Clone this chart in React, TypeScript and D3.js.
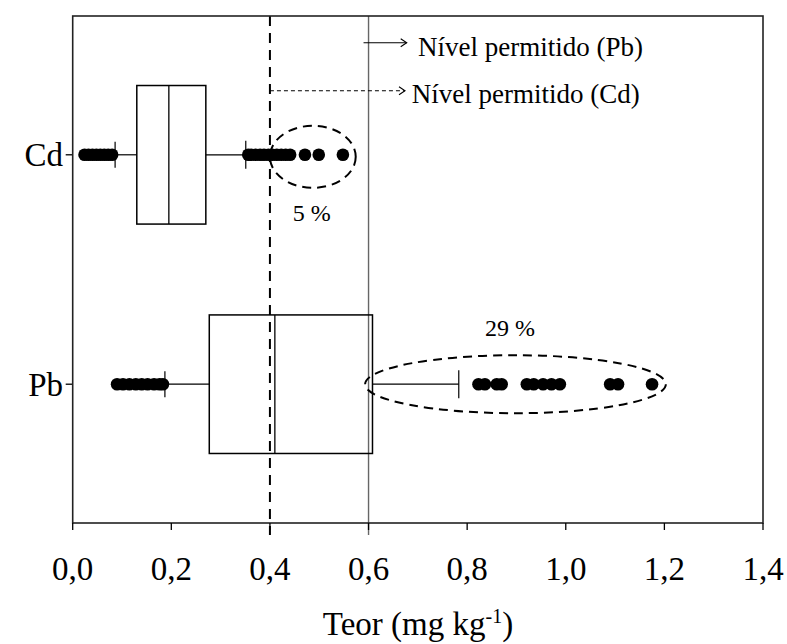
import React from "react";
import * as d3 from "d3";

const categories = ["Cd", "Pb"];
const q1 = [0.13, 0.277];
const medians = [0.195, 0.41];
const q3 = [0.27, 0.608];
const whiskerLow = [0.086, 0.187];
const whiskerHigh = [0.351, 0.783];
const outliersCd = [0.024, 0.032, 0.04, 0.048, 0.056, 0.064, 0.072, 0.08, 0.356, 0.362, 0.371, 0.38, 0.388, 0.397, 0.405, 0.414, 0.423, 0.432, 0.441, 0.471, 0.499, 0.548];
const outliersPb = [0.09, 0.102, 0.115, 0.128, 0.14, 0.152, 0.165, 0.176, 0.183, 0.823, 0.836, 0.86, 0.87, 0.921, 0.935, 0.954, 0.971, 0.988, 1.09, 1.106, 1.175];
const outliers = [outliersCd, outliersPb];
const ellipseCenter = [0.487, 0.898];
const ellipseRadius = [0.087, 0.305];
const ellipseRy = [31, 29];
const percentLabels = ["5 %", "29 %"];
const percentX = [0.485, 0.887];
const xTicks = [0, 0.2, 0.4, 0.6, 0.8, 1.0, 1.2, 1.4];
const cdLimit = 0.4;
const pbLimit = 0.6;
const legendPb = "Nível permitido (Pb)";
const legendCd = "Nível permitido (Cd)";

const FONT = "'Liberation Serif', 'Times New Roman', serif";

export default function App() {
  const left = 72.7, right = 763, top = 16, bottom = 523;
  const x = d3.scaleLinear().domain([0, 1.4]).range([left, right]);
  const y = d3.scalePoint<string>().domain(categories).range([top, bottom]).padding(0.605);
  const step = y.step();
  const boxH = step * 0.604;
  const fmt = d3.formatLocale({ decimal: ",", thousands: ".", grouping: [3], currency: ["", ""] }).format(".1f");

  const chevron = (tx: number, ty: number) => `M${tx - 6},${ty - 4}L${tx},${ty}L${tx - 6},${ty + 4}`;

  return (
    <svg width={787} height={644} style={{ position: "absolute", left: 0, top: 0, background: "#fff" }} fontFamily={FONT}>
      {/* limit lines */}
      <line x1={x(pbLimit)} x2={x(pbLimit)} y1={top} y2={bottom + 12} stroke="#666" strokeWidth={1.4} />
      <line x1={x(cdLimit)} x2={x(cdLimit)} y1={top} y2={bottom + 12} stroke="#000" strokeWidth={2} strokeDasharray="10,7" />

      {categories.map((c, i) => {
        const cy = y(c)!;
        return (
          <g key={c}>
            {/* whiskers */}
            <line x1={x(whiskerLow[i])} x2={x(q1[i])} y1={cy} y2={cy} stroke="#000" strokeWidth={1.2} />
            <line x1={x(q3[i])} x2={x(whiskerHigh[i])} y1={cy} y2={cy} stroke="#000" strokeWidth={1.2} />
            <line x1={x(whiskerLow[i])} x2={x(whiskerLow[i])} y1={cy - 13} y2={cy + 13} stroke="#000" strokeWidth={1.2} />
            <line x1={x(whiskerHigh[i])} x2={x(whiskerHigh[i])} y1={cy - 14} y2={cy + 14} stroke="#000" strokeWidth={1.2} />
            {/* box */}
            <rect x={x(q1[i])} y={cy - boxH / 2} width={x(q3[i]) - x(q1[i])} height={boxH} fill="none" stroke="#000" strokeWidth={1.5} />
            <line x1={x(medians[i])} x2={x(medians[i])} y1={cy - boxH / 2} y2={cy + boxH / 2} stroke="#000" strokeWidth={1.3} />
            {/* outliers */}
            {outliers[i].map((v, j) => (
              <circle key={j} cx={x(v)} cy={cy} r={6.3} fill="#000" />
            ))}
            {/* ellipse */}
            <ellipse cx={x(ellipseCenter[i])} cy={cy + (i === 0 ? 2 : 0)} rx={x(ellipseRadius[i]) - x(0)} ry={ellipseRy[i]} fill="none" stroke="#000" strokeWidth={2} strokeDasharray="9,6" />
            <text x={x(percentX[i])} y={i === 0 ? cy + 66.7 : cy - 48.5} textAnchor="middle" fontSize={24}>{percentLabels[i]}</text>
            {/* y tick + label */}
            <line x1={left - 7} x2={left} y1={cy} y2={cy} stroke="#000" strokeWidth={1.3} />
            <text x={63} y={cy} dy="0.35em" textAnchor="end" fontSize={33}>{c}</text>
          </g>
        );
      })}

      {/* frame */}
      <rect x={left} y={top} width={right - left} height={bottom - top} fill="none" stroke="#222" strokeWidth={1.6} />

      {/* x axis ticks */}
      {xTicks.map((t) => (
        <g key={t}>
          <line x1={x(t)} x2={x(t)} y1={bottom} y2={bottom + 7} stroke="#000" strokeWidth={1.3} />
          <text x={x(t)} y={580} textAnchor="middle" fontSize={33}>{fmt(t)}</text>
        </g>
      ))}
      <text x={418} y={635} textAnchor="middle" fontSize={33}>
        Teor (mg kg<tspan dy={-12} fontSize={20}>-1</tspan><tspan dy={12}>)</tspan>
      </text>

      {/* legend */}
      <line x1={x(pbLimit) - 5} x2={406.7} y1={42.7} y2={42.7} stroke="#000" strokeWidth={1.1} />
      <path d={chevron(406.7, 42.7)} fill="none" stroke="#000" strokeWidth={1.1} />
      <text x={418} y={56} fontSize={27}>{legendPb}</text>
      <line x1={x(cdLimit)} x2={405} y1={90.7} y2={90.7} stroke="#000" strokeWidth={1.1} strokeDasharray="4,3" />
      <path d={chevron(405, 90.7)} fill="none" stroke="#000" strokeWidth={1.1} />
      <text x={411.7} y={103.3} fontSize={27}>{legendCd}</text>
    </svg>
  );
}
